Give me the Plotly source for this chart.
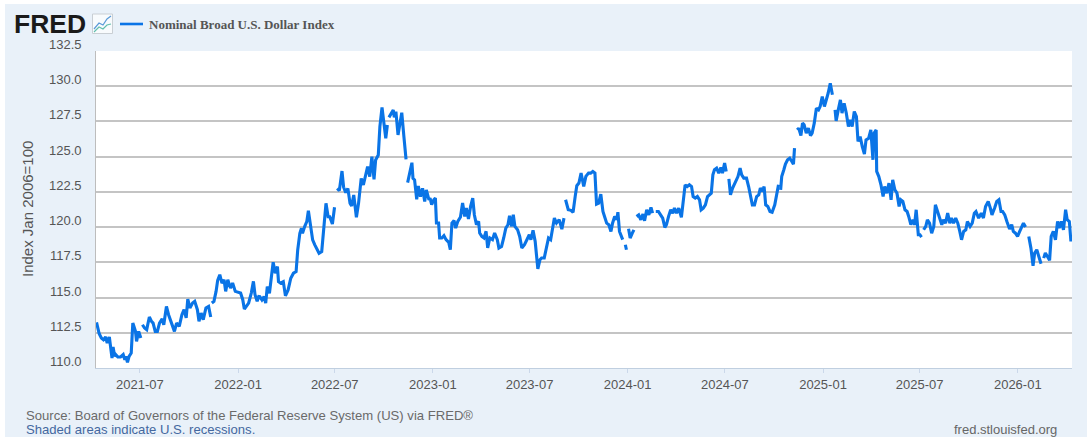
import pandas as pd
import plotly.graph_objects as go

SERIES_NAME = "Nominal Broad U.S. Dollar Index"
Y_TITLE = "Index Jan 2006=100"
SOURCE = "Source: Board of Governors of the Federal Reserve System (US) via FRED®"
SHADED = "Shaded areas indicate U.S. recessions."
SITE = "fred.stlouisfed.org"

first_day = "2021-04-09 14:00"
last_day = "2026-04-12 14:00"
y_ticks = [110.0, 112.5, 115.0, 117.5, 120.0, 122.5, 125.0, 127.5, 130.0, 132.5]
x_tick_first = "2021-07-01"

# days after first_day, and index value; None marks a hole in the published line
days_2021 = [1,4,6,10,14,18,21,25,28,30,32,35,37,41,46,51,54,56,59,62,66,69,71,74,76,80,84,85,87,91,95,100,104,107,111,115,119,124,127,132,136,141,147,151,156,161,165,169,172,176,181,185,190,193,197,201,206,211,215,216,217,221,225,228,232,236,240,243,247,252,256,261,271,275,278,282,286,291,295,298,302,305]
vals_2021 = [113.24,112.84,112.43,112.13,112.0,112.2,111.77,112.2,111.3,110.71,111.49,110.83,110.95,110.78,110.78,110.95,110.59,110.83,110.4,110.83,111.06,113.19,112.96,112.6,111.89,112.6,112.13,None,113.07,112.84,112.72,113.62,113.31,113.19,112.6,112.6,113.19,113.48,113.07,114.37,113.78,113.19,112.6,113.19,112.96,113.78,114.14,113.55,114.89,114.26,114.61,114.73,114.14,113.31,113.9,113.43,114.26,114.37,113.62,None,114.61,114.73,115.44,116.22,116.62,116.03,116.26,115.44,116.26,115.67,116.03,115.44,115.32,114.85,114.18,114.37,114.61,115.32,116.15,115.2,114.73,115.08]

days_2022 = [307,311,315,318,321,325,328,332,336,340,342,346,351,355,360,365,370,375,378,382,385,387,391,395,398,402,406,410,415,418,423,427,431,435,438,443,447,449,452,456,461,464,468,472,476,479,483,488,492,497,501,504,509,513,517,521,524,529,532,536,539,543,546,547,549,553,557,559,562,566,569,573,577,581,582,584,588,592,594,597,601,604,608,612,616,619,624]
vals_2022 = [115.07,114.83,115.07,114.6,115.78,115.31,116.49,117.51,116.73,117.2,116.13,116.02,116.13,115.12,115.54,116.37,116.73,116.84,118.38,119.56,119.92,119.56,120.04,120.39,121.17,120.27,119.09,118.74,118.38,118.14,118.26,120.27,121.69,120.74,120.74,120.22,121.41,None,122.75,122.59,123.98,122.83,122.45,122.75,121.69,121.5,122.28,120.7,121.69,123.46,122.99,123.46,124.29,123.58,125.0,123.39,124.76,125.12,127.13,128.5,127.48,126.3,127.25,None,127.79,128.07,128.31,127.79,128.19,126.54,127.36,128.12,126.42,124.81,None,123.16,123.94,124.57,123.46,123.35,121.97,122.92,122.16,122.75,121.81,122.64,121.93]

days_2023 = [626,629,633,636,638,642,644,648,652,656,661,664,667,671,674,678,683,687,691,694,698,702,706,709,713,717,719,723,727,731,734,738,743,747,752,755,760,764,768,772,775,779,782,785,790,794,798,803,807,812,815,819,823,825,828,832,835,840,844,848,852,855,859,863,868,873,877,879,880,885,890,894,898,901,905,909,914,918,923]
vals_2023 = [122.06,121.59,121.94,122.06,120.29,120.29,119.23,119.23,119.39,119.11,118.92,118.4,120.29,120.46,119.93,120.41,120.72,121.71,120.76,121.35,120.57,121.47,122.06,120.88,120.17,120.41,119.58,119.34,119.23,119.7,118.52,119.23,119.11,119.58,119.11,118.52,118.63,119.23,119.93,120.17,120.81,120.05,120.88,120.05,119.82,119.34,118.52,118.75,119.11,119.46,119.11,119.77,118.99,118.16,117.03,117.69,117.81,117.81,118.63,119.23,119.11,119.82,120.64,120.29,120.53,119.86,120.64,None,121.94,121.24,121.19,121.05,122.18,122.94,123.13,123.84,122.89,123.6,123.84]

days_2024 = [927,931,935,938,942,946,950,953,957,961,965,968,972,976,978,981,985,987,990,992,994,996,998,1001,1005,1008,1011,1013,1017,1021,1025,1028,1032,1036,1040,1043,1046,1049,1054,1058,1062,1066,1069,1073,1077,1081,1084,1088,1092,1097,1101,1104,1108,1112,1116,1119,1123,1127,1131,1134,1138,1142,1146,1149,1153,1156,1159,1163,1167,1171,1174,1178,1181,1183,1186,1189,1193,1198,1203,1207,1210,1214,1219,1223,1227,1230,1234,1238,1242,1245,1249,1252,1255,1259,1263,1267,1272,1275,1279,1280]
vals_2024 = [123.83,123.95,123.83,121.63,121.7,122.34,121.11,120.76,120.28,120.17,119.69,120.28,120.76,120.52,121.06,119.69,119.34,119.11,None,118.75,118.39,None,119.88,119.22,119.57,119.81,None,120.76,120.87,120.52,120.92,120.45,121.23,120.87,121.39,120.99,None,121.11,121.11,120.87,120.64,119.98,120.17,120.76,121.23,120.99,121.35,120.99,121.35,120.69,122.29,123.0,122.88,123.0,122.88,122.17,122.06,122.17,121.94,121.23,121.35,121.58,122.17,122.29,122.41,123.71,124.07,124.18,123.83,124.23,123.83,124.54,123.95,None,123.43,122.29,122.77,123.24,123.59,124.18,123.71,123.48,123.48,122.88,122.17,121.58,121.58,122.17,122.29,122.77,122.53,122.88,121.58,121.47,121.11,121.06,121.58,122.17,123.0,None]

days_2025 = [1283,1285,1289,1292,1296,1300,1304,1307,1309,1311,1314,1317,1321,1324,1327,1331,1335,1339,1342,1346,1350,1354,1357,1361,1365,1369,1372,1376,1380,1382,1385,1387,1391,1395,1398,1402,1406,1410,1413,1417,1421,1425,1428,1432,1436,1440,1443,1448,1452,1456,1458,1462,1463,1467,1471,1475,1478,1482,1486,1490,1493,1497,1501,1505,1508,1512,1516,1520,1523,1527,1531,1534,1537,1541]
vals_2025 = [122.65,123.59,124.07,124.47,124.78,124.89,124.66,124.47,125.6,None,126.9,127.02,126.5,127.38,127.26,126.67,127.02,126.5,126.67,127.38,128.44,128.32,128.56,129.27,128.56,129.03,129.5,130.21,129.39,None,128.32,127.54,128.32,129.03,128.09,128.79,128.09,127.14,127.61,127.14,128.2,127.85,126.08,126.43,125.72,125.18,126.19,126.31,126.9,124.78,126.67,126.9,123.95,123.59,123.0,122.17,122.88,122.41,123.12,121.94,123.36,122.65,122.41,121.47,121.94,121.82,121.23,121.11,120.76,120.17,120.52,120.17,121.23,119.46]

days_2026 = [1544,1547,1549,1551,1555,1558,1562,1566,1570,1573,1577,1581,1585,1588,1592,1596,1600,1603,1607,1611,1615,1618,1622,1626,1630,1633,1638,1642,1646,1649,1654,1659,1663,1667,1672,1676,1679,1684,1688,1692,1696,1699,1703,1707,1712,1716,1719,1723,1727,1731,1734,1738,1742,1745,1748,1752,1756,1759,1763,1767,1771,1773,1776,1779,1783,1787,1790,1794,1798,1802,1805,1809,1813,1817,1820,1824,1827]
vals_2026 = [119.46,119.29,None,119.81,120.05,120.52,120.28,119.57,120.05,121.58,121.11,120.64,120.17,120.52,120.28,120.99,120.28,120.64,120.28,120.64,120.28,119.81,119.1,119.69,119.81,120.4,120.05,120.28,120.99,121.11,120.64,120.99,120.64,121.47,121.82,121.35,120.87,121.35,121.82,121.94,121.11,121.11,120.87,120.4,119.86,120.17,119.69,119.57,119.34,119.69,119.93,120.28,120.0,None,119.34,118.51,117.26,118.16,118.39,117.92,117.4,None,117.8,118.16,117.92,117.64,119.34,119.69,119.1,120.4,119.93,120.4,119.81,121.23,120.52,120.4,118.98]

all_days = days_2021 + days_2022 + days_2023 + days_2024 + days_2025 + days_2026
all_vals = vals_2021 + vals_2022 + vals_2023 + vals_2024 + vals_2025 + vals_2026
start = pd.Timestamp(first_day)
dates = [start + pd.Timedelta(days=d) for d in all_days]

W, H = 1087, 437
L, R, T, B = 96, 15, 51, 69
BLUE = "#0a74e6"
PANEL = "#e9f1f9"
GRID = "#c4c4c4"
TEXT = "#555555"
SANS = "Liberation Sans, Arial, sans-serif"


def fx(px):
    return (px - L) / (W - L - R)


def fy(py):
    return 1 - (py - T) / (H - T - B)


def box(x0, y0, x1, y1, **kw):
    return dict(type="rect", xref="paper", yref="paper", x0=fx(x0), x1=fx(x1), y0=fy(y0), y1=fy(y1), **kw)


def seg(points, color, width):
    path = "M" + " L".join(f"{fx(a):.5f},{fy(b):.5f}" for a, b in points)
    return dict(type="path", xref="paper", yref="paper", path=path, line=dict(color=color, width=width))


shapes = [
    box(0, 0, W, 4, fillcolor="white", line_width=0),
    box(0, 0, 5, H, fillcolor="white", line_width=0),
    box(92.5, 14, 112.5, 33.5, fillcolor="#f8fbfd", line=dict(color="#c9cfd4", width=1)),
    seg([(94, 29), (99, 23), (103, 25), (107, 19), (111, 16)], "#5b9bd8", 1.2),
    seg([(94, 32), (99, 27), (103, 29), (107, 25), (111, 24)], "#63bfae", 1.2),
    seg([(120, 24), (143, 24)], BLUE, 2.6),
]

annotations = [
    dict(text="<b>FRED</b>", xref="paper", yref="paper", x=fx(12), y=fy(24), xanchor="left", yanchor="middle",
         showarrow=False, font=dict(family=SANS, size=26.5, color="#1a1a1a")),
    dict(text=f"<b>{SERIES_NAME}</b>", xref="paper", yref="paper", x=fx(146.5), y=fy(24), xanchor="left",
         yanchor="middle", showarrow=False, font=dict(family="Liberation Serif, Times New Roman, serif", size=13, color="#555555")),
    dict(text=SOURCE, xref="paper", yref="paper", x=fx(24), y=fy(415), xanchor="left", yanchor="middle",
         showarrow=False, font=dict(family=SANS, size=13.1, color="#6a6a6a")),
    dict(text=SHADED, xref="paper", yref="paper", x=fx(24), y=fy(429), xanchor="left", yanchor="middle",
         showarrow=False, font=dict(family=SANS, size=13.1, color="#44689f")),
    dict(text=SITE, xref="paper", yref="paper", x=fx(1059), y=fy(429), xanchor="right", yanchor="middle",
         showarrow=False, font=dict(family=SANS, size=13, color="#666666")),
]
for v in y_ticks:
    annotations.append(dict(text=f"{v:.1f}", xref="paper", yref="y", x=fx(84), y=v, yshift=6.5, xanchor="right",
                            yanchor="middle", showarrow=False, font=dict(family=SANS, size=13, color=TEXT)))
annotations.append(dict(text=Y_TITLE, xref="paper", yref="paper", x=fx(27.5), y=fy(209.5), textangle=-90,
                        showarrow=False, xanchor="center", yanchor="middle",
                        font=dict(family=SANS, size=15, color=TEXT)))

fig = go.Figure(
    go.Scatter(x=dates, y=all_vals, mode="lines", name=SERIES_NAME, connectgaps=False,
               line=dict(color=BLUE, width=3.1), hoverinfo="x+y")
)
fig.update_layout(
    width=W, height=H, autosize=False, showlegend=False,
    margin=dict(l=L, r=R, t=T, b=B, pad=0),
    paper_bgcolor=PANEL, plot_bgcolor="white",
    shapes=shapes, annotations=annotations,
    xaxis=dict(
        range=[first_day, last_day], type="date", tick0=x_tick_first, dtick="M6", tickformat="%Y-%m",
        ticks="outside", ticklen=4, tickwidth=1, tickcolor="#cbd8ea", showgrid=False,
        showline=True, linecolor="#c0cfe0", linewidth=1, zeroline=False,
        tickfont=dict(family=SANS, size=13, color=TEXT),
    ),
    yaxis=dict(
        range=[110, 132.5], tickmode="array", tickvals=y_ticks, showticklabels=False, ticks="",
        showgrid=True, gridcolor=GRID, gridwidth=1.6, zeroline=False,
        showline=True, linecolor="#bdbdbd", linewidth=1,
    ),
)

fig.write_html("out.html", config={"displayModeBar": False}, post_script="document.body.style.margin='0';")
